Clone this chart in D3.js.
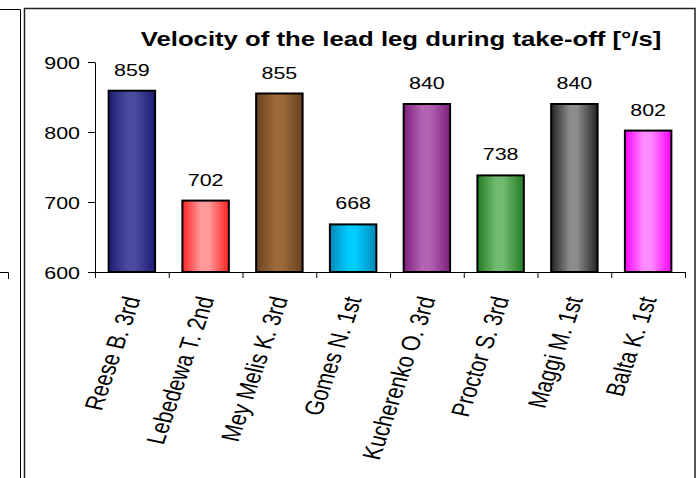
<!DOCTYPE html>
<html>
<head>
<meta charset="utf-8">
<script src="https://cdn.jsdelivr.net/npm/d3@7"></script>
<style>
  body { margin: 0; background: #fff; }
  text { font-family: Arial, "Liberation Sans", sans-serif; fill: #000; }
</style>
</head>
<body>
<div id="chart"></div>
<script>
var athletes = ["Reese B. 3rd", "Lebedewa T. 2nd", "Mey Melis K. 3rd", "Gomes N. 1st",
                "Kucherenko O. 3rd", "Proctor S. 3rd", "Maggi M. 1st", "Balta K. 1st"];
var velocity = [859, 702, 855, 668, 840, 738, 840, 802];
var yTicks = [600, 700, 800, 900];
var edgeColours = ["#1c1c74", "#ff2424", "#6a421f", "#0088b8", "#7e1e7e", "#217c21", "#232323", "#ff00ff"];
var midColours  = ["#4b4ba2", "#ff9a9a", "#9c6a3a", "#00ccff", "#b264b2", "#72ba72", "#8c8c8c", "#ff8cff"];
var title = "Velocity of the lead leg during take-off [\u00b0/s]";

var width = 700, height = 478,
    plotLeft = 95, plotRight = 685, plotTop = 62, plotBottom = 272,
    stretch = "scale(1.3,1)";

var svg = d3.select("#chart").append("svg")
    .attr("width", width)
    .attr("height", height);

var defs = svg.append("defs");
velocity.forEach(function (v, i) {
    var g = defs.append("linearGradient")
        .attr("id", "grad" + i)
        .attr("x1", "0%").attr("x2", "100%")
        .attr("y1", "0%").attr("y2", "0%");
    g.append("stop").attr("offset", "0%").attr("stop-color", edgeColours[i]);
    g.append("stop").attr("offset", "40%").attr("stop-color", midColours[i]);
    g.append("stop").attr("offset", "56%").attr("stop-color", midColours[i]);
    g.append("stop").attr("offset", "100%").attr("stop-color", edgeColours[i]);
});

// neighbouring chart edge and panel frame
svg.append("path")
    .attr("d", "M0,9.5H20.5V478")
    .attr("fill", "none").attr("stroke", "#000");
svg.append("path")
    .attr("d", "M0,272.5H8.5V279")
    .attr("fill", "none").attr("stroke", "#000");
svg.append("path")
    .attr("d", "M24.5,478V8.5H695V478")
    .attr("fill", "none").attr("stroke", "#222").attr("stroke-width", 1.5);

var x = d3.scaleBand()
    .domain(athletes)
    .range([plotLeft, plotRight])
    .paddingInner(0.37)
    .paddingOuter(0.185);

var xEdges = d3.scaleLinear()
    .domain([0, athletes.length])
    .range([plotLeft, plotRight]);

var y = d3.scaleLinear()
    .domain([600, 900])
    .range([plotBottom, plotTop]);

// bars
svg.append("g")
    .selectAll("rect")
    .data(velocity)
    .enter().append("rect")
        .attr("x", function (d, i) { return x(athletes[i]); })
        .attr("y", function (d) { return y(d); })
        .attr("width", x.bandwidth())
        .attr("height", function (d) { return y(600) - y(d); })
        .style("fill", function (d, i) { return "url(#grad" + i + ")"; })
        .style("stroke", "#000")
        .style("stroke-width", 2);

// value labels
svg.append("g")
    .selectAll("text")
    .data(velocity)
    .enter().append("text")
        .attr("transform", function (d, i) {
            return "translate(" + (x(athletes[i]) + x.bandwidth() / 2) + "," + (y(d) - 15) + ") " + stretch;
        })
        .attr("text-anchor", "middle")
        .style("font-size", "16.5px")
        .text(function (d) { return d; });

// y axis
var yAxis = d3.axisLeft(y)
    .tickValues(yTicks)
    .tickSize(7)
    .tickSizeOuter(0);
var yGuide = svg.append("g")
    .attr("transform", "translate(" + plotLeft + ",0)")
    .call(yAxis);
yGuide.selectAll("path, line").style("stroke", "#000");
yGuide.selectAll("text")
    .attr("x", null).attr("dy", null)
    .attr("transform", "translate(-15,6) " + stretch)
    .style("font-size", "16.5px")
    .style("font-family", "Arial, 'Liberation Sans', sans-serif");

// x axis, ticks between categories
var xAxis = d3.axisBottom(xEdges)
    .tickValues(d3.range(athletes.length + 1))
    .tickFormat("")
    .tickSize(6)
    .tickSizeOuter(0);
var xGuide = svg.append("g")
    .attr("transform", "translate(0," + plotBottom + ")")
    .call(xAxis);
xGuide.selectAll("path, line").style("stroke", "#000");

// rotated category labels
svg.append("g")
    .selectAll("text")
    .data(athletes)
    .enter().append("text")
        .attr("transform", function (d) {
            return "translate(" + (x(d) + x.bandwidth() / 2) + "," + (plotBottom + 25) + ") " + stretch + " rotate(-75)";
        })
        .attr("text-anchor", "end")
        .attr("dy", "0.35em")
        .style("font-size", "20px")
        .text(function (d) { return d; });

// title
svg.append("text")
    .attr("transform", "translate(401,46) " + stretch)
    .attr("text-anchor", "middle")
    .style("font-size", "19.8px")
    .style("font-weight", "bold")
    .text(title);
</script>
</body>
</html>
